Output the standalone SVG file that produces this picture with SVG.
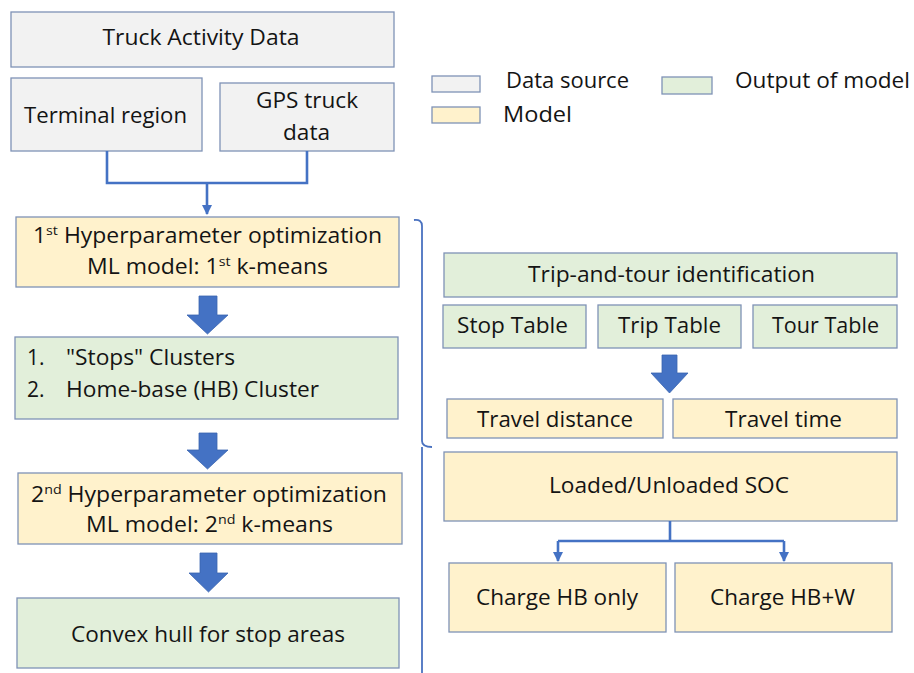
<svg xmlns="http://www.w3.org/2000/svg" width="914" height="673" viewBox="0 0 914 673">
<defs>
<style>
.box{stroke:#7f92b6;stroke-width:1.3}
.src{fill:#f2f2f2}
.mdl{fill:#fff2cc}
.out{fill:#e2efda}
text{font-family:"Open Sans","Liberation Sans",sans-serif;font-size:21px;fill:#141414}
.c{text-anchor:middle}
.big{font-size:22px}
.line{fill:none;stroke:#4472c4;stroke-width:2.6}
.brk{fill:none;stroke:#4a72c0;stroke-width:1.8}
.blk{fill:#4472c4;stroke:#3a64b0;stroke-width:0.8}
</style>
<marker id="ah" viewBox="0 0 10 10" refX="9" refY="5" markerWidth="4" markerHeight="4" orient="auto" markerUnits="strokeWidth">
<path d="M0,0 L10,5 L0,10 Z" fill="#4472c4"/>
</marker>
</defs>
<rect width="914" height="673" fill="#ffffff"/>

<g id="legend">
<rect class="box src" x="432" y="76" width="48" height="16"/>
<text x="506" y="88" textLength="123" lengthAdjust="spacingAndGlyphs">Data source</text>
<rect class="box out" x="662" y="77" width="50" height="17"/>
<text x="735" y="88" textLength="175" lengthAdjust="spacingAndGlyphs">Output of model</text>
<rect class="box mdl" x="432" y="107" width="48" height="16"/>
<text x="503" y="122" textLength="69" lengthAdjust="spacingAndGlyphs">Model</text>
</g>

<g id="truck-activity">
<rect class="box src" x="11" y="12" width="383" height="55"/>
<text class="c big" x="201" y="45" textLength="197" lengthAdjust="spacingAndGlyphs">Truck Activity Data</text>
</g>
<g id="terminal-region">
<rect class="box src" x="11" y="78" width="191" height="73"/>
<text class="c big" x="105.5" y="123" textLength="163" lengthAdjust="spacingAndGlyphs">Terminal region</text>
</g>
<g id="gps-data">
<rect class="box src" x="220" y="83" width="174" height="68"/>
<text class="c big" x="307" y="108" textLength="102" lengthAdjust="spacingAndGlyphs">GPS truck</text>
<text class="c big" x="306.5" y="140" textLength="47" lengthAdjust="spacingAndGlyphs">data</text>
</g>

<g id="hyper1">
<rect class="box mdl" x="16" y="217" width="383" height="70"/>
<text class="c" x="207.5" y="243" textLength="349" lengthAdjust="spacingAndGlyphs">1<tspan dy="-8" font-size="13">st</tspan><tspan dy="8"> Hyperparameter optimization</tspan></text>
<text class="c" x="207.5" y="274" textLength="241" lengthAdjust="spacingAndGlyphs">ML model: 1<tspan dy="-8" font-size="13">st</tspan><tspan dy="8"> k-means</tspan></text>
</g>

<g id="clusters">
<rect class="box out" x="15" y="337" width="383" height="82"/>
<text x="27" y="365">1.</text>
<text x="66" y="365" textLength="169" lengthAdjust="spacingAndGlyphs">"Stops" Clusters</text>
<text x="27" y="397">2.</text>
<text x="66" y="397" textLength="253" lengthAdjust="spacingAndGlyphs">Home-base (HB) Cluster</text>
</g>

<g id="hyper2">
<rect class="box mdl" x="18" y="473" width="384" height="71"/>
<text class="c" x="209" y="502" textLength="356" lengthAdjust="spacingAndGlyphs">2<tspan dy="-8" font-size="13">nd</tspan><tspan dy="8"> Hyperparameter optimization</tspan></text>
<text class="c" x="209.5" y="532" textLength="247" lengthAdjust="spacingAndGlyphs">ML model: 2<tspan dy="-8" font-size="13">nd</tspan><tspan dy="8"> k-means</tspan></text>
</g>

<g id="convex-hull">
<rect class="box out" x="17" y="598" width="382" height="70"/>
<text class="c" x="208" y="642" textLength="274" lengthAdjust="spacingAndGlyphs">Convex hull for stop areas</text>
</g>

<g id="trip-tour">
<rect class="box out" x="444" y="253" width="453" height="44"/>
<text class="c" x="671.5" y="282" textLength="287" lengthAdjust="spacingAndGlyphs">Trip-and-tour identification</text>
</g>
<g id="stop-table">
<rect class="box out" x="443" y="305" width="143" height="43"/>
<text class="c" x="512.5" y="333" textLength="111" lengthAdjust="spacingAndGlyphs">Stop Table</text>
</g>
<g id="trip-table">
<rect class="box out" x="598" y="305" width="143" height="43"/>
<text class="c" x="669.5" y="333" textLength="103" lengthAdjust="spacingAndGlyphs">Trip Table</text>
</g>
<g id="tour-table">
<rect class="box out" x="753" y="305" width="144" height="43"/>
<text class="c" x="825.5" y="333" textLength="107" lengthAdjust="spacingAndGlyphs">Tour Table</text>
</g>

<g id="travel-distance">
<rect class="box mdl" x="447" y="399" width="216" height="39"/>
<text class="c" x="555" y="427" textLength="156" lengthAdjust="spacingAndGlyphs">Travel distance</text>
</g>
<g id="travel-time">
<rect class="box mdl" x="673" y="399" width="224" height="39"/>
<text class="c" x="783.5" y="427" textLength="117" lengthAdjust="spacingAndGlyphs">Travel time</text>
</g>

<g id="soc">
<rect class="box mdl" x="444" y="452" width="453" height="69"/>
<text class="c" x="669" y="493" textLength="240" lengthAdjust="spacingAndGlyphs">Loaded/Unloaded SOC</text>
</g>
<g id="charge-hb">
<rect class="box mdl" x="449" y="563" width="217" height="69"/>
<text class="c" x="557" y="605" textLength="162" lengthAdjust="spacingAndGlyphs">Charge HB only</text>
</g>
<g id="charge-hbw">
<rect class="box mdl" x="675" y="563" width="217" height="69"/>
<text class="c" x="782.5" y="605" textLength="145" lengthAdjust="spacingAndGlyphs">Charge HB+W</text>
</g>

<g id="connectors">
<path class="line" d="M107,151 V183 H307 V151"/>
<path class="line" d="M207,183 V214" marker-end="url(#ah)"/>
<path class="line" d="M670,521 V541"/>
<path class="line" d="M558,541 H784"/>
<path class="line" d="M558,541 V561" marker-end="url(#ah)"/>
<path class="line" d="M784,541 V561" marker-end="url(#ah)"/>
<path class="blk" d="M199,296 H217 V315 H228 L207.5,334 L187,315 H199 Z"/>
<path class="blk" d="M199,433 H217 V450 H228 L207.5,469 L187,450 H199 Z"/>
<path class="blk" d="M200,553 H217 V573 H228 L208.5,592 L189,573 H200 Z"/>
<path class="blk" d="M662,355 H677 V373 H688 L669.5,393 L651,373 H662 Z"/>
<path class="brk" d="M414,220 Q422,219 422,226 V441 Q422,447 432,447 M422,447 Q422,453 422,460 V673"/>
</g>
</svg>
